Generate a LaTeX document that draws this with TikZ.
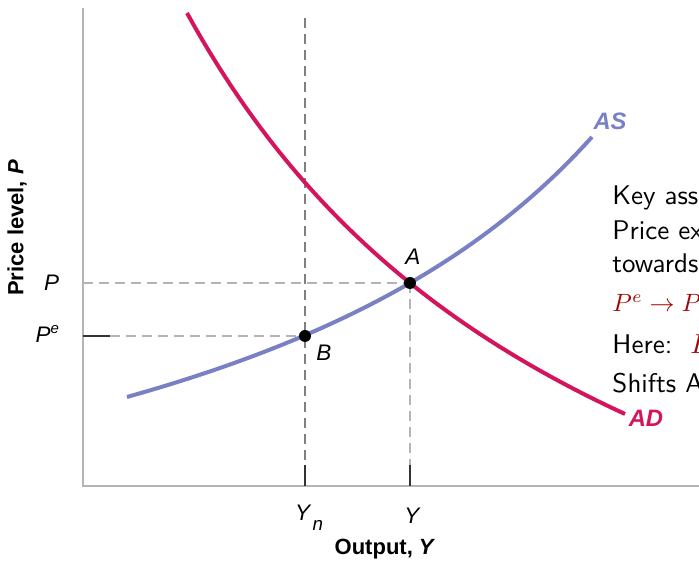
\documentclass[tikz,border=0pt]{standalone}
\usepackage{fontspec}
\newfontfamily\figfont{Liberation Sans}
\definecolor{adred}{RGB}{213,20,94}
\definecolor{asblue}{RGB}{122,128,196}
\definecolor{axisgray}{RGB}{180,180,180}
\definecolor{guidegray}{RGB}{128,128,128}
\definecolor{alertred}{RGB}{155,10,10}

\begin{document}
\begin{tikzpicture}[x=4pt,y=4pt,
  guide/.style={dash pattern=on 4pt off 2.4pt, line width=0.6pt, axisgray},
  tickmark/.style={line width=0.6pt, black!80},
  dot/.style={circle, fill=black, inner sep=0pt, minimum size=4.8pt},
  lbl/.style={font=\figfont\fontsize{9}{10}\selectfont\itshape},
  curvelbl/.style={font=\figfont\fontsize{9.5}{11}\selectfont\bfseries\itshape},
  axislbl/.style={font=\figfont\fontsize{8.8}{10}\selectfont\bfseries},
  note/.style={font=\sffamily\fontsize{10.8}{13}\selectfont, anchor=base west, inner sep=0pt}]

% The slide area
\clip (-8.3,-7.7) rectangle (61.6,48.6);

% Points on the axes and the equilibria
\coordinate (O) at (0,0);
\coordinate (yTop) at (0,47.8);
\coordinate (xEnd) at (61.6,0);
\coordinate (A) at (32.7,20.3);
\coordinate (B) at (22.2,15.0);
\coordinate (yP) at (0,20.3);
\coordinate (yPe) at (0,15.0);
\coordinate (yPeTick) at (2.7,15.0);
\coordinate (ynTop) at (22.2,46.8);
\coordinate (ynTick) at (22.2,2.1);
\coordinate (ynBase) at (22.2,0);
\coordinate (yTick) at (32.7,2.1);
\coordinate (yBase) at (32.7,0);

% The axes
\draw[axisgray, line width=0.8pt] (yTop) -- (O) -- (xEnd);

% The guides
\draw[guide] (yP) -- (A);
\draw[guide] (A) -- (yTick);
\draw[guide] (yPeTick) -- (B);
\draw[guide, guidegray] (ynTop) -- (ynTick);
\draw[tickmark] (yPe) -- (yPeTick);
\draw[tickmark] (ynTick) -- (ynBase);
\draw[tickmark] (yTick) -- (yBase);

% AD and AS
\draw[adred, line width=1.6pt, domain=10.4:54.2, samples=60] plot (\x, {3581.6/(\x+33.97) - 33.42});
\draw[asblue, line width=1.6pt, domain=4.4:50.9, samples=60] plot (\x, {2448.7/(97.79-\x) - 17.32});
\node[curvelbl, asblue] (labAS) at (52.7,36.5) {AS};
\node[curvelbl, adred] (labAD) at (56.3,6.8) {AD};

% Equilibria
\node[dot] (dotA) at (A) {};
\node[dot] (dotB) at (B) {};
\node[lbl] (labA) at (33.0,22.9) {A};
\node[lbl] (labB) at (24.1,13.3) {B};

% Axis labels
\node[lbl, anchor=east] (labP) at (-1.5,20.3) {P};
\node[lbl, anchor=east] (labPe) at (-1.4,15.2) {P\textsuperscript{e}};
\node[lbl] (labYn) at (22.6,-3.2) {Y\kern1pt\raisebox{-0.45em}{\fontsize{7.5}{8}\selectfont n}};
\node[lbl] (labY) at (32.9,-3.0) {Y};
\node[axislbl] (labOut) at (30.2,-6.3) {Output, \textit{Y}};
\node[axislbl, rotate=90] (labPrice) at (-6.6,25.8) {Price level, \textit{P}};

% Side note
\node[note] (note1) at (52.9,28.1) {Key ass};
\node[note] (note2) at (52.9,24.6) {Price ex};
\node[note] (note3) at (52.9,21.3) {towards};
\node[note, font=\sffamily\fontsize{10}{12}\selectfont] (note4) at (52.9,17.4) {\color{alertred}$P^e \to P$};
\node[note] (note5) at (52.9,13.2) {Here:~~\textcolor{alertred}{$P$}};
\node[note] (note6) at (52.9,9.3) {Shifts A};

\end{tikzpicture}
\end{document}
